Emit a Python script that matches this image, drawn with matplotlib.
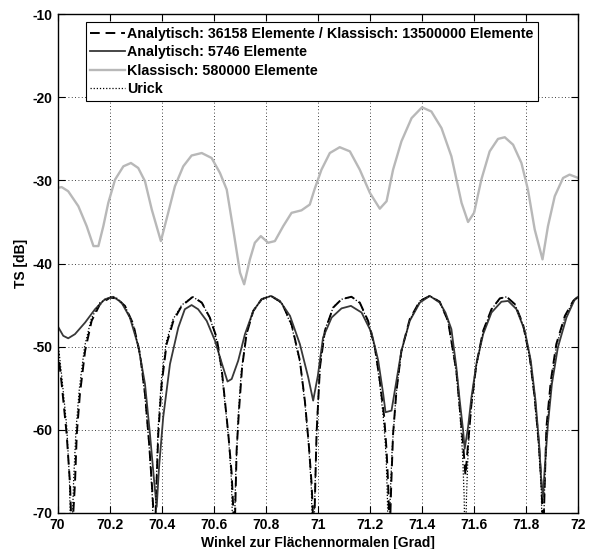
import matplotlib
matplotlib.use('Agg')
import matplotlib.pyplot as plt

plt.rcParams['font.family'] = ['Liberation Sans', 'DejaVu Sans']
plt.rcParams['font.weight'] = 'bold'
plt.rcParams['axes.labelweight'] = 'bold'
plt.rcParams['axes.unicode_minus'] = False

# Klassisch: 580000 Elemente (grau)
x_klass = [70.0, 70.016, 70.041, 70.08, 70.112, 70.138, 70.157, 70.176, 70.195, 70.221,
           70.253, 70.282, 70.31, 70.336, 70.362, 70.397, 70.425, 70.451, 70.483, 70.515,
           70.554, 70.592, 70.624, 70.65, 70.675, 70.701, 70.717, 70.739, 70.758, 70.781,
           70.809, 70.835, 70.867, 70.899, 70.937, 70.969, 70.988, 71.014, 71.046, 71.084,
           71.123, 71.161, 71.2, 71.238, 71.264, 71.289, 71.321, 71.36, 71.40, 71.436,
           71.475, 71.513, 71.552, 71.577, 71.6, 71.628, 71.66, 71.692, 71.718, 71.75,
           71.782, 71.807, 71.833, 71.863, 71.884, 71.91, 71.942, 71.967, 72.0]
ts_klass = [-30.9, -30.8, -31.3, -33.1, -35.5, -37.9, -37.9, -35.5, -32.7, -29.9,
            -28.3, -27.9, -28.5, -30.1, -33.5, -37.3, -33.9, -30.7, -28.3, -27.0,
            -26.7, -27.3, -29.1, -31.1, -35.9, -41.1, -42.5, -39.5, -37.5, -36.7,
            -37.5, -37.3, -35.5, -33.9, -33.6, -32.9, -31.0, -28.7, -26.7, -26.0,
            -26.5, -28.7, -31.5, -33.4, -32.5, -28.7, -25.3, -22.5, -21.2, -21.7,
            -23.7, -27.1, -32.7, -35.0, -33.9, -29.9, -26.5, -25.0, -24.8, -25.7,
            -27.9, -31.1, -35.9, -39.5, -35.5, -31.9, -29.7, -29.3, -29.7]

# Analytisch: 5746 Elemente (durchgezogen)
x_ana = [70.0, 70.022, 70.041, 70.067, 70.106, 70.144, 70.182, 70.214, 70.246, 70.278,
         70.31, 70.336, 70.355, 70.372, 70.381, 70.39, 70.406, 70.432, 70.464, 70.489,
         70.515, 70.54, 70.573, 70.605, 70.63, 70.653, 70.669, 70.694, 70.72, 70.752,
         70.784, 70.82, 70.854, 70.893, 70.931, 70.963, 70.982, 71.0, 71.02, 71.053,
         71.091, 71.127, 71.168, 71.206, 71.232, 71.251, 71.26, 71.283, 71.302, 71.321,
         71.353, 71.392, 71.43, 71.468, 71.49, 71.513, 71.532, 71.545, 71.558, 71.564,
         71.577, 71.59, 71.609, 71.635, 71.667, 71.705, 71.731, 71.763, 71.795, 71.818,
         71.836, 71.85, 71.859, 71.865, 71.871, 71.884, 71.899, 71.922, 71.955, 71.987, 72.0]
ts_ana = [-47.5, -48.7, -49.0, -48.5, -47.1, -45.5, -44.3, -44.0, -44.7, -46.5,
          -49.9, -54.5, -60.5, -66.5, -69.3, -64.5, -58.5, -52.1, -47.7, -45.5,
          -45.0, -45.5, -46.9, -49.3, -51.9, -54.2, -53.9, -51.7, -48.5, -45.7,
          -44.3, -43.9, -44.5, -46.3, -49.7, -53.7, -56.5, -53.5, -48.9, -46.5,
          -45.4, -45.1, -45.9, -48.3, -51.7, -55.7, -57.9, -57.7, -54.1, -50.5,
          -46.9, -44.7, -43.9, -44.7, -45.9, -47.9, -52.5, -56.5, -60.1, -62.3,
          -59.7, -56.1, -52.1, -48.5, -45.9, -44.6, -44.5, -45.5, -48.1, -51.7,
          -56.5, -61.7, -66.5, -68.1, -64.9, -59.3, -54.5, -50.1, -46.5, -44.3, -44.0]

# Analytisch: 36158 / Klassisch: 13500000 Elemente (gestrichelt)
x_fein = [70.0, 70.016, 70.035, 70.048, 70.055, 70.067, 70.074, 70.086, 70.106, 70.131,
          70.163, 70.202, 70.227, 70.259, 70.291, 70.317, 70.336, 70.352, 70.364, 70.374,
          70.381, 70.387, 70.4, 70.419, 70.445, 70.477, 70.52, 70.554, 70.585, 70.611,
          70.63, 70.643, 70.656, 70.669, 70.68, 70.688, 70.697, 70.709, 70.726, 70.752,
          70.784, 70.82, 70.861, 70.899, 70.931, 70.95, 70.965, 70.976, 70.985, 70.995,
          71.008, 71.027, 71.059, 71.091, 71.129, 71.161, 71.193, 71.219, 71.238, 71.255,
          71.264, 71.27, 71.276, 71.282, 71.289, 71.302, 71.321, 71.353, 71.392, 71.43,
          71.468, 71.5, 71.532, 71.545, 71.558, 71.567, 71.577, 71.59, 71.609, 71.635,
          71.667, 71.699, 71.725, 71.757, 71.788, 71.814, 71.833, 71.849, 71.859, 71.866,
          71.872, 71.878, 71.895, 71.916, 71.949, 71.981, 72.0]
ts_fein = [-50.0, -54.5, -60.5, -66.5, -73.0, -66.5, -60.5, -55.7, -50.5, -46.9,
           -44.9, -44.1, -44.2, -45.1, -47.3, -50.9, -55.7, -61.7, -67.3, -73.0,
           -66.0, -60.5, -54.5, -49.7, -46.9, -45.1, -44.0, -44.7, -46.5, -48.9,
           -52.5, -56.5, -60.5, -65.3, -73.0, -62.5, -57.7, -52.5, -48.5, -45.7,
           -44.3, -43.9, -44.7, -47.3, -51.7, -56.5, -61.7, -66.5, -73.0, -60.5,
           -52.5, -48.1, -45.3, -44.3, -44.0, -44.7, -46.9, -50.1, -54.1, -58.5,
           -62.5, -66.5, -73.0, -66.5, -60.5, -55.3, -50.5, -46.7, -44.5, -43.9,
           -44.6, -46.9, -52.9, -57.3, -61.7, -65.5, -61.7, -56.9, -52.1, -48.1,
           -45.5, -44.2, -44.0, -44.9, -47.3, -51.3, -56.1, -61.7, -66.5, -73.0,
           -66.0, -59.7, -54.1, -49.7, -46.3, -44.5, -44.0]

# Urick (gepunktet)
x_urick = [70.0, 70.016, 70.035, 70.046, 70.052, 70.062, 70.071, 70.084, 70.104, 70.13,
           70.163, 70.205, 70.23, 70.262, 70.293, 70.318, 70.336, 70.352, 70.364, 70.372,
           70.38, 70.386, 70.399, 70.418, 70.444, 70.477, 70.52, 70.556, 70.587, 70.612,
           70.63, 70.644, 70.657, 70.668, 70.676, 70.685, 70.694, 70.706, 70.724, 70.75,
           70.784, 70.82, 70.862, 70.9, 70.932, 70.951, 70.965, 70.975, 70.982, 70.99,
           70.998, 71.01, 71.029, 71.06, 71.092, 71.13, 71.162, 71.194, 71.22, 71.238,
           71.253, 71.262, 71.267, 71.272, 71.278, 71.286, 71.3, 71.32, 71.353, 71.392,
           71.43, 71.468, 71.5, 71.531, 71.545, 71.556, 71.562, 71.566, 71.571, 71.578,
           71.59, 71.609, 71.635, 71.667, 71.7, 71.726, 71.758, 71.789, 71.815, 71.833,
           71.848, 71.858, 71.864, 71.871, 71.879, 71.896, 71.917, 71.95, 71.981, 72.0]
ts_urick = [-49.0, -53.5, -59.5, -66.0, -76.0, -66.0, -60.0, -55.0, -50.0, -46.6,
            -44.7, -44.0, -44.2, -45.3, -47.6, -51.2, -56.0, -62.0, -68.0, -76.0,
            -66.0, -60.0, -54.0, -49.4, -46.7, -45.0, -44.0, -44.8, -46.7, -49.3,
            -53.0, -57.0, -61.0, -66.0, -76.0, -65.0, -58.5, -53.0, -48.8, -45.8,
            -44.3, -43.9, -44.8, -47.6, -52.0, -57.0, -62.0, -67.0, -76.0, -66.0,
            -58.0, -51.8, -47.8, -45.2, -44.3, -44.0, -44.8, -47.1, -50.4, -54.5,
            -59.0, -63.0, -68.0, -76.0, -68.0, -62.0, -56.0, -50.8, -46.8, -44.5,
            -43.9, -44.6, -47.0, -53.0, -57.8, -63.0, -68.0, -76.0, -68.0, -62.0,
            -57.0, -52.3, -48.2, -45.5, -44.2, -44.0, -45.0, -47.5, -51.6, -56.5,
            -62.0, -67.0, -76.0, -67.0, -60.0, -54.3, -49.8, -46.4, -44.5, -44.0]

x_ticks = [70, 70.2, 70.4, 70.6, 70.8, 71, 71.2, 71.4, 71.6, 71.8, 72]
x_labels = ['70', '70.2', '70.4', '70.6', '70.8', '71', '71.2', '71.4', '71.6', '71.8', '72']
y_ticks = [-70, -60, -50, -40, -30, -20, -10]

fig = plt.figure(figsize=(5.93, 5.49), dpi=100)
ax = fig.add_axes([0.097, 0.066, 0.878, 0.908])

ax.plot(x_fein, ts_fein, color='black', lw=1.4, ls=(0, (5, 3)),
        label='Analytisch: 36158 Elemente / Klassisch: 13500000 Elemente')
ax.plot(x_ana, ts_ana, color='#383838', lw=1.3, label='Analytisch: 5746 Elemente')
ax.plot(x_klass, ts_klass, color='#b8b8b8', lw=1.7, label='Klassisch: 580000 Elemente')
ax.plot(x_urick, ts_urick, color='black', lw=0.9, ls=(0, (1, 1.5)), label='Urick')

ax.set_xlim(70, 72)
ax.set_ylim(-70, -10)
ax.set_xticks(x_ticks)
ax.set_xticklabels(x_labels)
ax.set_yticks(y_ticks)
ax.grid(True, color='black', ls=(0, (1, 3)), lw=0.6)
ax.tick_params(direction='in', top=True, right=True, length=5, labelsize=10)
for lbl in ax.get_xticklabels() + ax.get_yticklabels():
    lbl.set_fontweight('bold')
for s in ax.spines.values():
    s.set_linewidth(1)
ax.set_xlabel('Winkel zur Flächennormalen [Grad]', fontsize=10, labelpad=3)
ax.set_ylabel('TS [dB]', fontsize=10, labelpad=3)

leg = ax.legend(loc='upper left', bbox_to_anchor=(0.055, 0.984), borderaxespad=0,
                fontsize=10.3, handlelength=2.4, handletextpad=0.15, labelspacing=0.32,
                fancybox=False, framealpha=1, edgecolor='black', borderpad=0.3)
leg.get_frame().set_linewidth(0.8)

fig.savefig('out.png', dpi=100)
